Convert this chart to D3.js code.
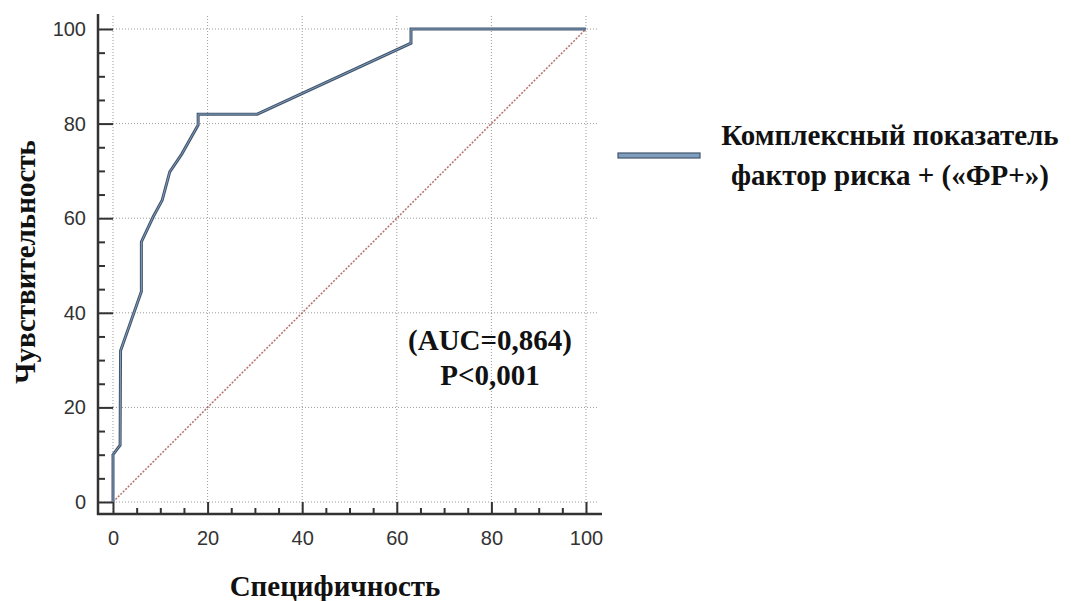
<!DOCTYPE html>
<html>
<head>
<meta charset="utf-8">
<script src="https://cdn.jsdelivr.net/npm/d3@7"></script>
<style>
  body { margin: 0; background: #fff; }
  svg { display: block; }
</style>
</head>
<body>
<div id="chart"></div>
<script>
// ROC curve points: [100 - specificity axis value, sensitivity]
var rocX = [0, 0, 1.5, 1.6, 6, 6, 8.5, 10.4, 12, 14.5, 18, 18, 30.5, 63, 63, 100];
var rocY = [0, 10, 12, 32, 44.5, 55, 60.3, 63.8, 69.8, 73.5, 79.7, 82, 82, 97, 100, 100];

var majorTicks = [0, 20, 40, 60, 80, 100];
var minorTicks = [5, 10, 15, 25, 30, 35, 45, 50, 55, 65, 70, 75, 85, 90, 95];

var seriesName = ["Комплексный показатель", "фактор риска + («ФР+»)"];
var statLines = ["(AUC=0,864)", "P<0,001"];
var xTitle = "Специфичность",
    yTitle = "Чувствительность";

var width = 1071,
    height = 601;

var svg = d3.select("#chart").append("svg")
    .attr("width", width)
    .attr("height", height);

// scales: plot square, axes offset a bit outside
var x = d3.scaleLinear().domain([0, 100]).range([113, 586]);
var y = d3.scaleLinear().domain([0, 100]).range([502, 29]);
var axisX = 98, axisY = 514;

// grid
var grid = svg.append("g").attr("class", "grid");
grid.selectAll("line.h")
    .data(majorTicks)
    .enter().append("line")
    .attr("x1", axisX).attr("x2", 598)
    .attr("y1", function(d) { return y(d); })
    .attr("y2", function(d) { return y(d); });
grid.selectAll("line.v")
    .data(majorTicks)
    .enter().append("line")
    .attr("x1", function(d) { return x(d); })
    .attr("x2", function(d) { return x(d); })
    .attr("y1", 16).attr("y2", axisY);
grid.selectAll("line")
    .attr("stroke", "#9a9a9a")
    .attr("stroke-width", 1)
    .attr("stroke-dasharray", "1,2");

// reference diagonal
svg.append("line")
    .attr("x1", x(0)).attr("y1", y(0))
    .attr("x2", x(100)).attr("y2", y(100))
    .attr("stroke", "#b5706a")
    .attr("stroke-width", 1.5)
    .attr("stroke-dasharray", "2,1.5");

// axes
var yAxis = d3.axisLeft(y).tickValues(majorTicks).tickSize(-15).tickSizeOuter(0).tickPadding(12);
var yMinor = d3.axisLeft(y).tickValues(minorTicks).tickSize(-7).tickSizeOuter(0).tickFormat("");
var xAxis = d3.axisBottom(x).tickValues(majorTicks).tickSize(-12).tickSizeOuter(0).tickPadding(17);
var xMinor = d3.axisBottom(x).tickValues(minorTicks).tickSize(-6).tickSizeOuter(0).tickFormat("");

[ [yAxis, "translate(" + axisX + ",0)"], [yMinor, "translate(" + axisX + ",0)"],
  [xAxis, "translate(0," + axisY + ")"], [xMinor, "translate(0," + axisY + ")"] ].forEach(function(a) {
    var g = svg.append("g").attr("transform", a[1]).call(a[0]);
    g.select(".domain").remove();
    g.selectAll(".tick line").attr("stroke", "#333").attr("stroke-width", 2);
    g.selectAll(".tick text")
        .attr("fill", "#333")
        .style("font-family", "'Liberation Sans Narrow', 'Liberation Sans', Arial, sans-serif")
        .style("font-size", "20px");
});

svg.append("line")
    .attr("x1", axisX).attr("x2", axisX)
    .attr("y1", 14).attr("y2", axisY + 1)
    .attr("stroke", "#333").attr("stroke-width", 2.5);
svg.append("line")
    .attr("x1", axisX - 1).attr("x2", 602)
    .attr("y1", axisY).attr("y2", axisY)
    .attr("stroke", "#333").attr("stroke-width", 2.5);

// ROC curve
var roc = d3.range(rocX.length).map(function(i) { return [rocX[i], rocY[i]]; });
var line = d3.line()
    .x(function(d) { return x(d[0]); })
    .y(function(d) { return y(d[1]); });

svg.append("path")
    .datum(roc)
    .attr("d", line)
    .attr("fill", "none")
    .attr("stroke", "#42556c")
    .attr("stroke-width", 3)
    .attr("stroke-linejoin", "miter");
svg.append("path")
    .datum(roc)
    .attr("d", line)
    .attr("fill", "none")
    .attr("stroke", "#7f9dbd")
    .attr("stroke-width", 1);

var serif = "'Liberation Serif', 'Times New Roman', serif";

// statistics
svg.append("g")
    .selectAll("text")
    .data(statLines)
    .enter().append("text")
    .attr("x", 490)
    .attr("y", function(d, i) { return 350 + i * 35; })
    .attr("text-anchor", "middle")
    .style("font-family", serif)
    .style("font-weight", "bold")
    .style("font-size", "29px")
    .attr("fill", "#111")
    .text(function(d) { return d; });

// axis titles
svg.append("text")
    .attr("x", 335).attr("y", 596)
    .attr("text-anchor", "middle")
    .style("font-family", serif)
    .style("font-weight", "bold")
    .style("font-size", "29px")
    .attr("fill", "#111")
    .text(xTitle);

svg.append("text")
    .attr("transform", "translate(35,262) rotate(-90)")
    .attr("text-anchor", "middle")
    .style("font-family", serif)
    .style("font-weight", "bold")
    .style("font-size", "29px")
    .attr("fill", "#111")
    .text(yTitle);

// legend
var legend = svg.append("g");
legend.append("rect")
    .attr("x", 618).attr("y", 153)
    .attr("width", 82).attr("height", 5)
    .attr("fill", "#7f9dbd")
    .attr("stroke", "#42556c")
    .attr("stroke-width", 1.2);
legend.selectAll("text")
    .data(seriesName)
    .enter().append("text")
    .attr("x", 890)
    .attr("y", function(d, i) { return 145 + i * 40; })
    .attr("text-anchor", "middle")
    .style("font-family", serif)
    .style("font-weight", "bold")
    .style("font-size", "29px")
    .attr("fill", "#111")
    .text(function(d) { return d; });
</script>
</body>
</html>
